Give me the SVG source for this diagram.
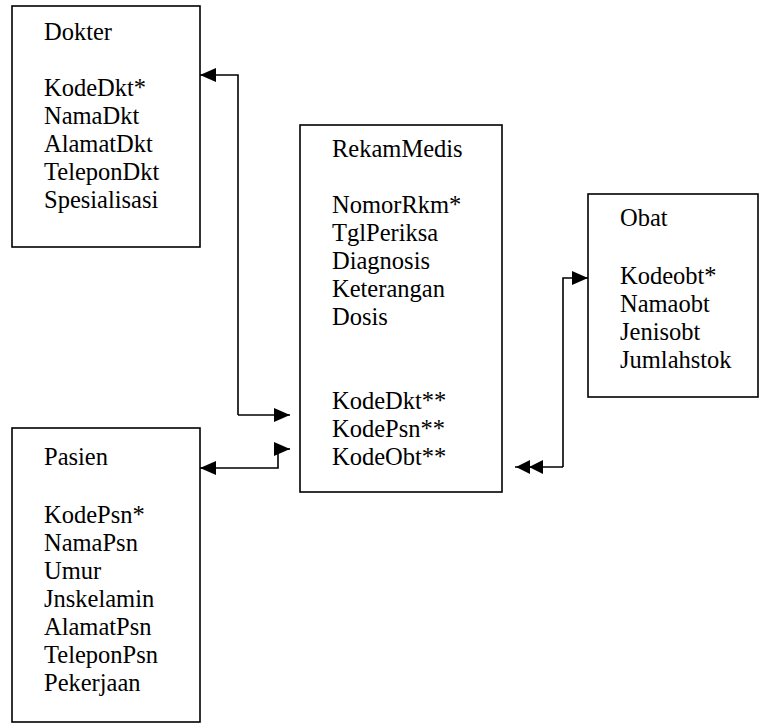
<svg xmlns="http://www.w3.org/2000/svg" width="766" height="724" viewBox="0 0 766 724">
<defs>
<style>
.box{fill:#fff;stroke:#000;stroke-width:1.6}
text{font-family:'Liberation Serif','Times New Roman',serif;font-size:24.5px;fill:#000}
.c{fill:none;stroke:#000;stroke-width:1.6}
</style>
<marker id="ah" viewBox="0 0 16 14" refX="16" refY="7" markerWidth="16" markerHeight="14" markerUnits="userSpaceOnUse" orient="auto">
<path d="M0,0 L16,7 L0,14 Z" fill="#000"/>
</marker>
<marker id="ah2" viewBox="0 0 28 14" refX="28" refY="7" markerWidth="28" markerHeight="14" markerUnits="userSpaceOnUse" orient="auto">
<path d="M0,0 L14,7 L0,14 Z M13,0 L27,7 L13,14 Z" fill="#000"/>
</marker>
</defs>
<rect width="766" height="724" fill="#fff"/>
<g id="dokter">
<rect class="box" x="12" y="6" width="188" height="241"/>
<text x="44" y="40">Dokter</text>
<text x="44" y="96">KodeDkt*</text>
<text x="44" y="124">NamaDkt</text>
<text x="44" y="152">AlamatDkt</text>
<text x="44" y="180">TeleponDkt</text>
<text x="44" y="208">Spesialisasi</text>
</g>
<g id="rekammedis">
<rect class="box" x="300" y="125" width="202" height="367"/>
<text x="332" y="157">RekamMedis</text>
<text x="332" y="213">NomorRkm*</text>
<text x="332" y="241">TglPeriksa</text>
<text x="332" y="269">Diagnosis</text>
<text x="332" y="297">Keterangan</text>
<text x="332" y="325">Dosis</text>
<text x="332" y="409">KodeDkt**</text>
<text x="332" y="437">KodePsn**</text>
<text x="332" y="465">KodeObt**</text>
</g>
<g id="obat">
<rect class="box" x="588" y="194" width="170" height="203"/>
<text x="620" y="226">Obat</text>
<text x="620" y="284">Kodeobt*</text>
<text x="620" y="312">Namaobt</text>
<text x="620" y="340">Jenisobt</text>
<text x="620" y="368">Jumlahstok</text>
</g>
<g id="pasien">
<rect class="box" x="12" y="428" width="188" height="294"/>
<text x="44" y="465">Pasien</text>
<text x="44" y="523">KodePsn*</text>
<text x="44" y="551">NamaPsn</text>
<text x="44" y="579">Umur</text>
<text x="44" y="607">Jnskelamin</text>
<text x="44" y="635">AlamatPsn</text>
<text x="44" y="663">TeleponPsn</text>
<text x="44" y="691">Pekerjaan</text>
</g>
<g id="connectors">
<path class="c" d="M238,415 L238,75 L200,75" marker-end="url(#ah)"/>
<path class="c" d="M238,415 L290,415" marker-end="url(#ah)"/>
<path class="c" d="M278,449 L278,468 L200,468" marker-end="url(#ah)"/>
<path class="c" d="M278,449 L290,449" marker-end="url(#ah)"/>
<path class="c" d="M563,467 L563,278 L588,278" marker-end="url(#ah)"/>
<path class="c" d="M563,467 L515,467" marker-end="url(#ah2)"/>
</g>
</svg>
